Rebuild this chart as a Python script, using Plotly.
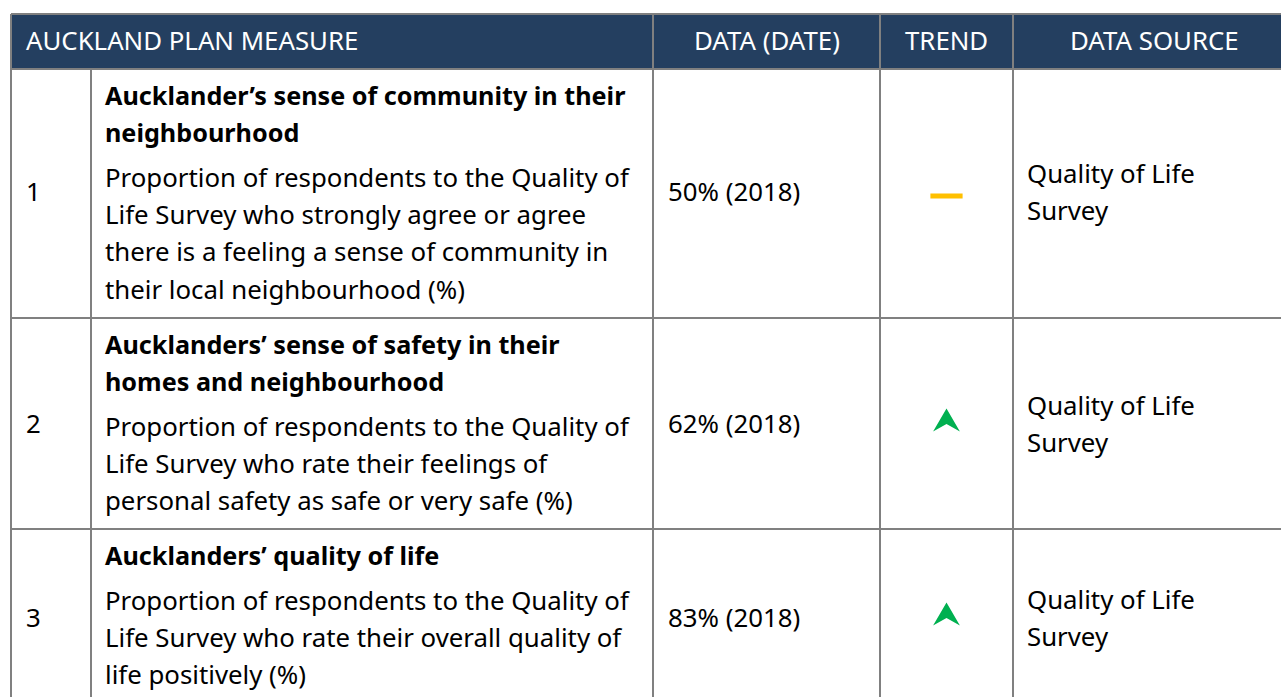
import plotly.graph_objects as go

W, H = 1281, 697
FONT = "Noto Sans"

headers = ["AUCKLAND PLAN MEASURE", "DATA (DATE)", "TREND", "DATA SOURCE"]
row_numbers = ["1", "2", "3"]
titles = [
    ["Aucklander\u2019s sense of community in their", "neighbourhood"],
    ["Aucklanders\u2019 sense of safety in their", "homes and neighbourhood"],
    ["Aucklanders\u2019 quality of life"],
]
descriptions = [
    ["Proportion of respondents to the Quality of",
     "Life Survey who strongly agree or agree",
     "there is a feeling a sense of community in",
     "their local neighbourhood (%)"],
    ["Proportion of respondents to the Quality of",
     "Life Survey who rate their feelings of",
     "personal safety as safe or very safe (%)"],
    ["Proportion of respondents to the Quality of",
     "Life Survey who rate their overall quality of",
     "life positively (%)"],
]
data_values = ["50% (2018)", "62% (2018)", "83% (2018)"]
trends = ["flat", "up", "up"]
sources = [["Quality of Life", "Survey"]] * 3

# layout constants (pixels)
col_x = [11, 91, 653, 880, 1013, 1300]
header_top, header_bot = 14, 69
row_bounds = [69, 318, 529, 760]
row_mid = [191, 423, 617]
LINE = 37.3
TITLE_GAP = 44.5
FS = 25.8
FSB = 25.2
GRID = "#808080"
HEADER_BG = "#243f60"
UP_COLOR = "#00b050"
FLAT_COLOR = "#ffc000"
# arrow-head outline (relative to icon centre): tip, right foot, notch, left foot
ARROW_DX = [0, 13.4, 0, -13.4, 0]
ARROW_DY = [-11.5, 11.5, 4, 11.5, -11.5]

fig = go.Figure()
shapes = []
ann = []

shapes.append(dict(type="rect", x0=col_x[0], x1=col_x[-1], y0=header_top, y1=header_bot,
                   fillcolor=HEADER_BG, line=dict(width=0), layer="below"))

header_cols = [(col_x[0], col_x[2]), (col_x[2], col_x[3]), (col_x[3], col_x[4]), (col_x[4], 1295)]
hy = (header_top + header_bot) / 2 - 1.5
for i, (h, (a, b)) in enumerate(zip(headers, header_cols)):
    if i == 0:
        ann.append(dict(x=a + 13, y=hy, text=h, xanchor="left", yanchor="middle", showarrow=False,
                        font=dict(family=FONT, size=FS, color="white")))
    else:
        ann.append(dict(x=(a + b) / 2, y=hy, text=h, xanchor="center", yanchor="middle", showarrow=False,
                        font=dict(family=FONT, size=FS, color="white")))

# grid lines
for y in [header_top, header_bot] + row_bounds[1:-1]:
    shapes.append(dict(type="line", x0=col_x[0], x1=col_x[-1], y0=y, y1=y, line=dict(color=GRID, width=2)))
for i, x in enumerate(col_x[:-1]):
    y0 = header_top if i in (0, 2, 3, 4) else header_bot
    shapes.append(dict(type="line", x0=x, x1=x, y0=y0, y1=H + 20, line=dict(color=GRID, width=2)))

flat_x, flat_y = [], []
for r in range(3):
    top = row_bounds[r]
    y = top + 26
    for t in titles[r]:
        ann.append(dict(x=col_x[1] + 12, y=y, text="<b>" + t + "</b>", xanchor="left", yanchor="middle",
                        showarrow=False, font=dict(family=FONT, size=FSB, color="black")))
        y += LINE
    y += TITLE_GAP - LINE
    for d in descriptions[r]:
        ann.append(dict(x=col_x[1] + 12, y=y, text=d, xanchor="left", yanchor="middle",
                        showarrow=False, font=dict(family=FONT, size=FS, color="black")))
        y += LINE
    mid = row_mid[r]
    ann.append(dict(x=col_x[0] + 13, y=mid, text=row_numbers[r], xanchor="left", yanchor="middle",
                    showarrow=False, font=dict(family=FONT, size=FS, color="black")))
    ann.append(dict(x=col_x[2] + 13, y=mid, text=data_values[r], xanchor="left", yanchor="middle",
                    showarrow=False, font=dict(family=FONT, size=FS, color="black")))
    for k, s in enumerate(sources[r]):
        ann.append(dict(x=col_x[4] + 12, y=mid - 18 + k * LINE, text=s, xanchor="left", yanchor="middle",
                        showarrow=False, font=dict(family=FONT, size=FS, color="black")))
    cx = (col_x[3] + col_x[4]) / 2
    if trends[r] == "up":
        cy = mid - 3
        fig.add_trace(go.Scatter(x=[cx + d for d in ARROW_DX], y=[cy + d for d in ARROW_DY],
                                 mode="lines", fill="toself", fillcolor=UP_COLOR,
                                 line=dict(width=0, color=UP_COLOR), hoverinfo="skip"))
    else:
        flat_x.append(cx); flat_y.append(mid + 5)

fig.add_trace(go.Scatter(x=flat_x, y=flat_y, mode="markers", hoverinfo="skip",
                         marker=dict(symbol="line-ew", size=23, line=dict(width=5, color=FLAT_COLOR))))

fig.update_layout(
    width=W, height=H, margin=dict(l=0, r=0, t=0, b=0),
    paper_bgcolor="white", plot_bgcolor="white", showlegend=False,
    xaxis=dict(range=[0, W], visible=False, fixedrange=True),
    yaxis=dict(range=[H, 0], visible=False, fixedrange=True),
    shapes=shapes, annotations=ann,
)
fig.write_html("out.html", config={"displayModeBar": False},
               post_script="document.body.style.margin='0';document.body.style.overflow='hidden';")
